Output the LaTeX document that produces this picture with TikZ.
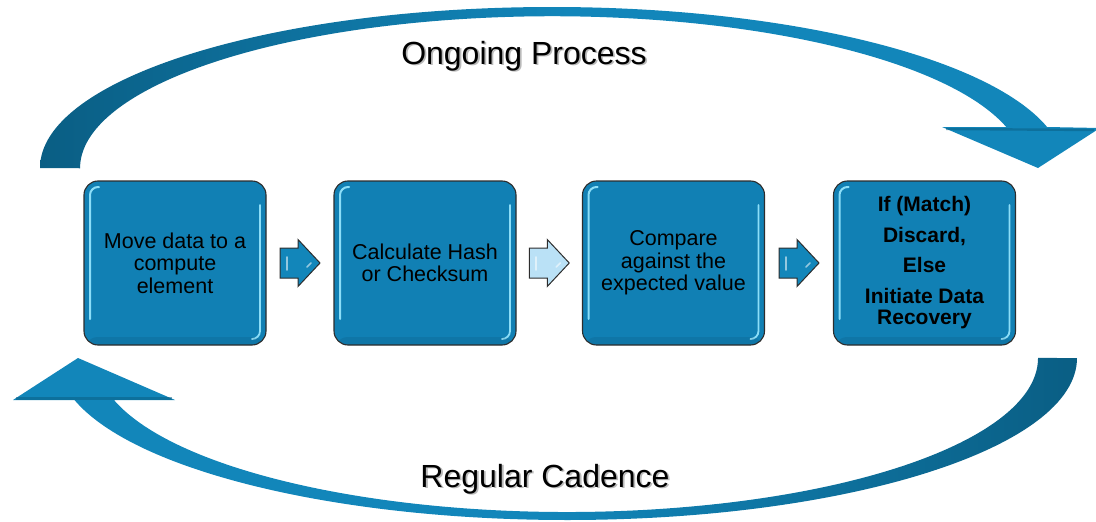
\documentclass[tikz,border=0pt]{standalone}
\usepackage{fontspec}
\setmainfont{Liberation Sans}
\usetikzlibrary{calc}

\definecolor{boxblue}{RGB}{17,128,180}
\definecolor{arcblue}{RGB}{18,134,186}
\definecolor{arcdark}{RGB}{10,94,132}
\definecolor{bevel}{RGB}{140,222,248}
\definecolor{edge}{RGB}{45,45,45}
\definecolor{paleblue}{RGB}{186,225,246}

\tikzset{
  % rounded process box with a glossy bevel along its inner edges
  stepbox/.style={
    draw=edge, line width=1.1pt, fill=boxblue, rounded corners=14pt,
    minimum width=182pt, minimum height=164pt, inner sep=0pt,
    align=center, font=\fontsize{21.5}{22.5}\selectfont,
    path picture={
      \draw[bevel, line width=2pt, line cap=round, rounded corners=8pt]
        ($(path picture bounding box.south west)+(6pt,26pt)$) --
        ($(path picture bounding box.north west)+(6pt,-6pt)$) --
        ($(path picture bounding box.north west)+(15pt,-6pt)$);
      \draw[bevel, line width=1.8pt, line cap=round, rounded corners=8pt]
        ($(path picture bounding box.north east)+(-6pt,-24pt)$) --
        ($(path picture bounding box.south east)+(-6pt,6pt)$) --
        ($(path picture bounding box.south east)+(-14pt,6pt)$);
      \fill[black, opacity=.07]
        ($(path picture bounding box.south west)+(0pt,8pt)$) rectangle
        (path picture bounding box.south east);
    }},
  % caption set over the curved arrows
  caption/.style={font=\fontsize{32}{36}\selectfont, anchor=base, inner sep=0pt},
  % small block arrow between two boxes
  flowarrow/.pic={
    \draw[pic actions] (-20,-15) -- (-2,-15) -- (-2,-23.5) -- (20,0)
      -- (-2,23.5) -- (-2,15) -- (-20,15) -- cycle;
    \draw[white, opacity=.55, line width=1.6pt, line cap=round]
      (-13,-6) -- (-13,7);
    \draw[white, opacity=.55, line width=1.6pt, line cap=round]
      (7,4) -- (11,0);
  },
}

\begin{document}
\begin{tikzpicture}[x=1pt,y=-1pt]
\useasboundingbox (0,0) rectangle (1096,522);
\clip (0,0) rectangle (1096,522);

% upper curved arrow, running left to right
\path[left color=arcdark, right color=arcblue, middle color=arcblue]
  (40,168) arc[start angle=180, end angle=345.25, x radius=512, y radius=161]
  -- (1100,128) -- (1038,168) -- (942,127) -- (1006.3,127)
  arc[start angle=344.25, end angle=180, x radius=472, y radius=152] -- cycle;
\draw[arcdark, line width=2.4pt, opacity=.55] (946,129) -- (1094,130);

% lower curved arrow, running right to left
\path[left color=arcblue, right color=arcdark, middle color=arcblue]
  (1077,358) arc[start angle=0, end angle=164.97, x radius=510, y radius=162]
  -- (13,400) -- (78,358) -- (175,400) -- (113.9,400)
  arc[start angle=164.17, end angle=0, x radius=471, y radius=154] -- cycle;
\draw[arcdark, line width=2.4pt, opacity=.55] (16,398.5) -- (172,398.5);

% captions with soft shadows
\node[caption, text=black!45, opacity=.6] at (525.8,65.8) {Ongoing Process};
\node[caption] (top) at (524,64) {Ongoing Process};
\node[caption, text=black!45, opacity=.6] at (546.8,488.8) {Regular Cadence};
\node[caption] (bottom) at (545,487) {Regular Cadence};

% process steps
\node[stepbox] (b1) at (175,263) {Move data to a\\compute\\element};
\node[stepbox] (b2) at (425,263) {Calculate Hash\\or Checksum};
\node[stepbox] (b3) at (673.5,263) {Compare\\against the\\expected value};
\node[stepbox, font=\fontsize{21}{21.5}\selectfont\bfseries] (b4) at (924.5,263)
  {If (Match)\\[9pt]Discard,\\[9pt]Else\\[9pt]Initiate Data\\Recovery};

% block arrows between the steps
\pic[draw=edge, fill=arcblue, line width=1pt] at ($(b1.east)!0.5!(b2.west)$) {flowarrow};
\pic[draw=edge, fill=paleblue, line width=1pt] at ($(b2.east)!0.5!(b3.west)$) {flowarrow};
\pic[draw=edge, fill=arcblue, line width=1pt] at ($(b3.east)!0.5!(b4.west)$) {flowarrow};
\end{tikzpicture}
\end{document}
